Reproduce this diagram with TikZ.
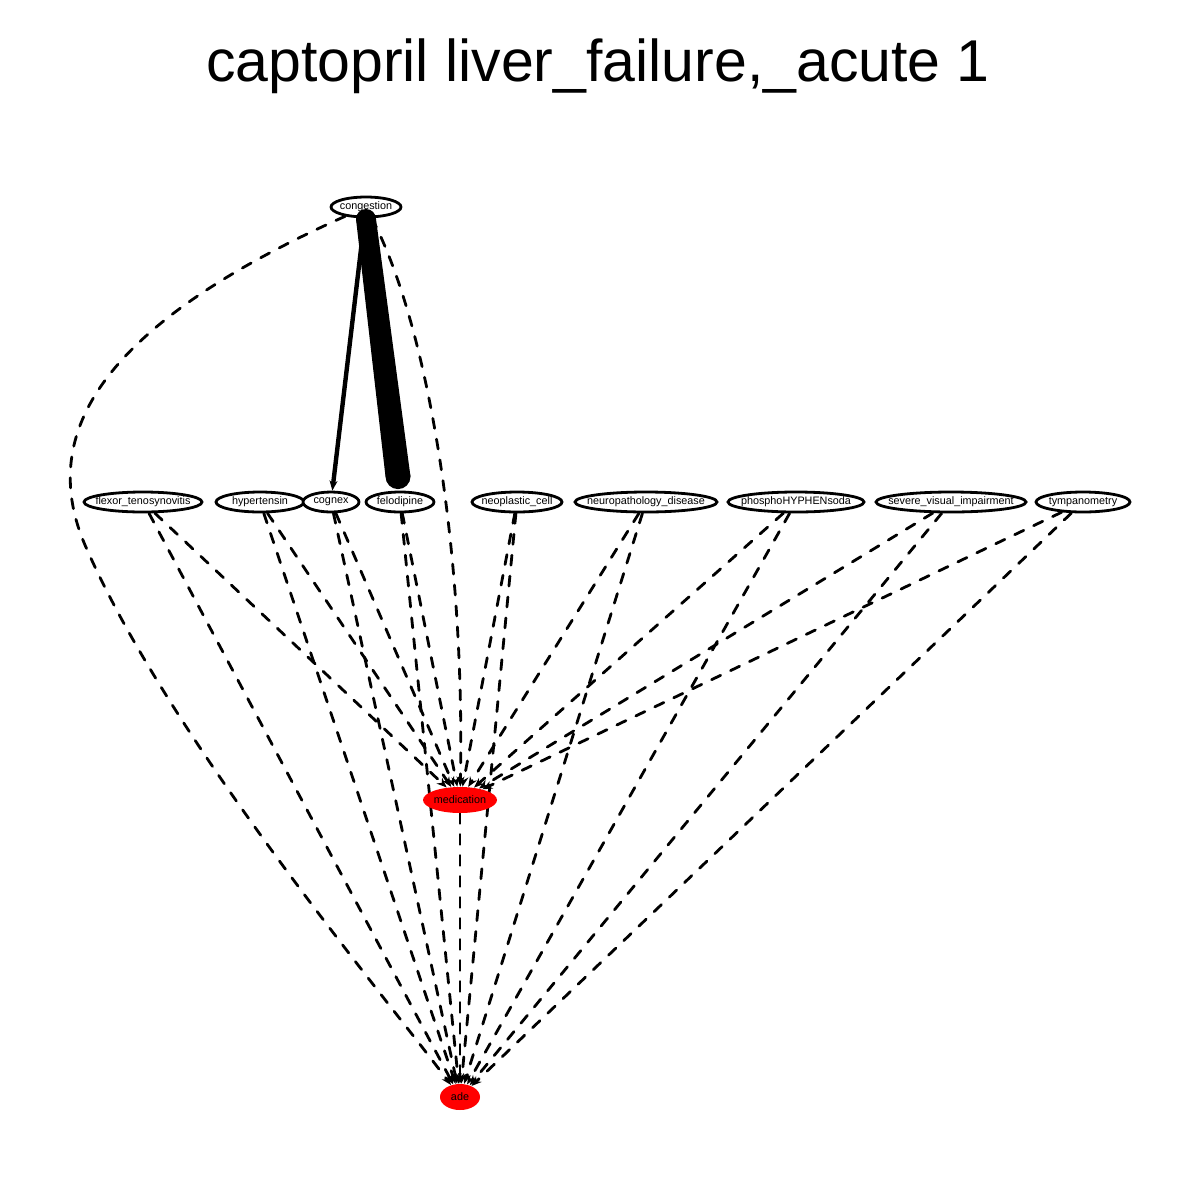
\documentclass[tikz,border=0pt]{standalone}
\usepackage{fontspec}
\setmainfont{Liberation Sans}
\usetikzlibrary{shapes.geometric,arrows.meta,calc}
\pgfdeclarelayer{back}
\pgfdeclarelayer{bg}
\pgfsetlayers{back,bg,main}
\begin{document}
\begin{tikzpicture}[x=0.5pt,y=-0.5pt,
  every label/.style={inner sep=0pt,font=\fontsize{5.4}{6}\selectfont},
  nd/.style={ellipse,draw=black,line width=1.4pt,fill=white,inner sep=0pt,minimum height=10pt},
  rd/.style={ellipse,draw=none,fill=red,inner sep=0pt,minimum height=13pt},
  de/.style={line width=1.4pt,line cap=round,dash pattern=on 5pt off 5.5pt,-{Stealth[length=5pt,width=4pt]}},
  se/.style={-{Stealth[length=5pt,width=4pt]}}]
\begin{pgfonlayer}{back}
\fill[white] (0,0) rectangle (1200,1200);
\end{pgfonlayer}
\useasboundingbox (0,0) rectangle (1200,1200);
\node[font=\fontsize{29.5}{34}\selectfont] (title) at (598,66) {captopril liver\_failure,\_acute 1};
\node[nd,minimum width=35pt,label={center:congestion}] (cong) at (366,207) {};
\node[nd,minimum width=59pt,label={center:flexor\_tenosynovitis}] (flex) at (143,502) {};
\node[nd,minimum width=44pt,label={center:hypertensin}] (hyp) at (260,502) {};
\node[nd,minimum width=28pt,label={center:cognex}] (cog) at (331,502) {};
\node[nd,minimum width=34pt,label={center:felodipine}] (felo) at (400,502) {};
\node[nd,minimum width=45pt,label={center:neoplastic\_cell}] (neo) at (517,502) {};
\node[nd,minimum width=71pt,label={center:neuropathology\_disease}] (neur) at (646,502) {};
\node[nd,minimum width=68pt,label={center:phosphoHYPHENsoda}] (phos) at (796,502) {};
\node[nd,minimum width=75pt,label={center:severe\_visual\_impairment}] (sev) at (951,502) {};
\node[nd,minimum width=47pt,label={center:tympanometry}] (tymp) at (1083,502) {};
\node[rd,minimum width=37pt,label={center:medication}] (med) at (460,800) {};
\node[rd,minimum width=20pt,label={center:ade}] (ade) at (460,1097) {};
\begin{pgfonlayer}{bg}
% solid edge
\draw[line width=2.2pt,se] (cong) -- (cog);
% congestion dashed
\draw[de] (cong) .. controls (430,330) and (465,560) .. (med);
\draw[de] (cong) .. controls (90,330) and (40,440) .. (85,545) .. controls (170,740) and (380,990) .. (ade);
% middle nodes
\foreach \n in {flex,hyp,cog,felo,neo,neur,phos,sev,tymp}{
  \draw[de] (\n) -- (med);
  \draw[de] (\n) -- (ade);
}
\draw[de] (med) -- (ade);
\end{pgfonlayer}
% heavy edge congestion -> felodipine (drawn over the congestion node)
\path (cong.center) ++(0,12) coordinate (fs);
\path (felo.north) ++(-2,-14) coordinate (fe);
\fill ($(fs)+(-10,0)$) -- ($(fs)+(10,0)$) -- ($(fe)+(12.5,0)$) -- ($(fe)+(-12.5,0)$) -- cycle;
\fill (fs) circle (10);
\fill (fe) circle (12.5);
\end{tikzpicture}
\end{document}
